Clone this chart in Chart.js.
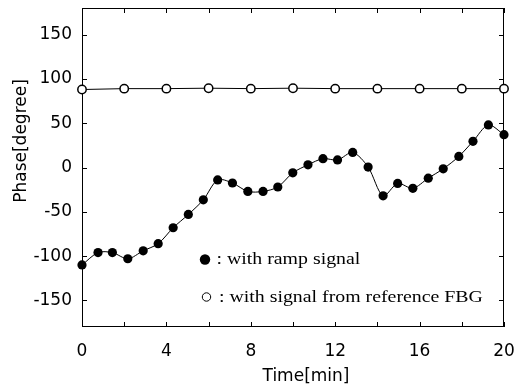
<!DOCTYPE html>
<html><head><meta charset="utf-8">
<script src="https://cdn.jsdelivr.net/npm/chart.js@4"></script>
<style>html,body{margin:0;padding:0;background:#fff}#wrap{width:529px;height:388px}</style>
</head><body>
<div id="wrap"><canvas id="c"></canvas></div>
<script>
// ---- data ----
const rampTime  = [0, 0.76, 1.44, 2.17, 2.90, 3.61, 4.32, 5.04, 5.75, 6.43, 7.13, 7.86, 8.58, 9.28, 9.99,
                   10.71, 11.42, 12.11, 12.83, 13.56, 14.27, 14.96, 15.68, 16.41, 17.12, 17.86, 18.53, 19.26, 20];
const rampPhase = [-110, -96, -96, -103, -94, -86, -68, -53, -36.5, -14, -17.5, -27, -27, -22, -6,
                   3, 10, 8.5, 17, 0.5, -32, -18, -23.5, -12, -1.5, 12.5, 29.5, 48, 37];
const refTime   = [0, 2, 4, 6, 8, 10, 12, 14, 16, 18, 20];
const refPhase  = [88, 89, 89, 89.5, 89, 89.5, 89, 89, 89, 89, 89];
const xTickValues  = [0, 2, 4, 6, 8, 10, 12, 14, 16, 18, 20];
const xLabelValues = [0, 4, 8, 12, 16, 20];
const yTickValues  = [-150, -100, -50, 0, 50, 100, 150];
const xTitle = 'Time[min]';
const yTitle = 'Phase[degree]';
const legendTexts = [': with ramp signal', ': with signal from reference FBG'];

Chart.defaults.font.family = 'DejaVu Sans';
Chart.defaults.color = '#000';

const frame = {
  id: 'frame',
  beforeDatasetsDraw(chart) {
    const {ctx, chartArea: a} = chart;
    const xs = chart.scales.x, ys = chart.scales.y;
    ctx.save();
    ctx.strokeStyle = '#000';
    ctx.lineWidth = 1;
    ctx.strokeRect(a.left + 0.5, a.top + 0.5, a.right - a.left - 1, a.bottom - a.top - 1);
    ctx.beginPath();
    const tl = 5;
    xTickValues.forEach(v => {
      const px = Math.round(xs.getPixelForValue(v)) + 0.5;
      ctx.moveTo(px, a.bottom); ctx.lineTo(px, a.bottom - tl);
      ctx.moveTo(px, a.top); ctx.lineTo(px, a.top + tl);
    });
    yTickValues.forEach(v => {
      const py = Math.round(ys.getPixelForValue(v)) + 0.5;
      ctx.moveTo(a.left, py); ctx.lineTo(a.left + tl, py);
      ctx.moveTo(a.right, py); ctx.lineTo(a.right - tl, py);
    });
    ctx.stroke();
    ctx.restore();
  },
  afterDraw(chart) {
    const {ctx} = chart;
    ctx.save();
    ctx.fillStyle = '#000';
    ctx.font = '17px "DejaVu Sans"';
    ctx.textAlign = 'center';
    ctx.textBaseline = 'alphabetic';
    ctx.fillText(xTitle, 306, 381);
    ctx.translate(26, 141);
    ctx.rotate(-Math.PI / 2);
    ctx.fillText(yTitle, 0, 0);
    ctx.restore();
    ctx.save();
    ctx.fillStyle = '#000';
    ctx.strokeStyle = '#000';
    ctx.beginPath(); ctx.arc(205, 259.5, 5.2, 0, Math.PI * 2); ctx.fill();
    ctx.lineWidth = 1;
    ctx.beginPath(); ctx.arc(206.5, 297, 4.2, 0, Math.PI * 2); ctx.stroke();
    ctx.font = '16px "Liberation Serif"';
    ctx.textAlign = 'left';
    ctx.textBaseline = 'alphabetic';
    const sx = 1.24;
    [[216.5, 264, legendTexts[0]], [219, 301.5, legendTexts[1]]].forEach(([x, y, t]) => {
      ctx.save(); ctx.translate(x, y); ctx.scale(sx, 1); ctx.fillText(t, 0, 0); ctx.restore();
    });
    ctx.restore();
  }
};

new Chart(document.getElementById('c'), {
  type: 'line',
  data: {
    datasets: [
      {
        data: rampTime.map((t, i) => ({x: t, y: rampPhase[i]})),
        borderColor: '#000', borderWidth: 1, tension: 0.3,
        pointRadius: 4.6, pointBackgroundColor: '#000', pointBorderColor: '#000', pointBorderWidth: 0,
        clip: false
      },
      {
        data: refTime.map((t, i) => ({x: t, y: refPhase[i]})),
        borderColor: '#000', borderWidth: 1, tension: 0,
        pointRadius: 4.2, pointBackgroundColor: '#fff', pointBorderColor: '#000', pointBorderWidth: 1.5,
        clip: false
      }
    ]
  },
  options: {
    responsive: true, maintainAspectRatio: false, animation: false, devicePixelRatio: 1,
    layout: {padding: {top: 8, right: 25, left: 0, bottom: 0}},
    plugins: {legend: {display: false}, tooltip: {enabled: false}},
    scales: {
      x: {
        type: 'linear', min: 0, max: 20,
        afterBuildTicks: s => { s.ticks = xTickValues.map(v => ({value: v})); },
        afterFit: s => { s.height = 61; s.paddingLeft = 0; s.paddingRight = 0; },
        grid: {display: false, drawTicks: false}, border: {display: false},
        ticks: {
          autoSkip: false, maxRotation: 0, padding: 14,
          font: {size: 17, family: 'DejaVu Sans'}, color: '#000',
          callback: v => xLabelValues.includes(v) ? String(v) : ''
        }
      },
      y: {
        type: 'linear', min: -180, max: 180,
        afterBuildTicks: s => { s.ticks = yTickValues.map(v => ({value: v})); },
        afterFit: s => { s.width = 82; s.paddingTop = 0; s.paddingBottom = 0; },
        grid: {display: false, drawTicks: false}, border: {display: false},
        ticks: {padding: 10, font: {size: 17, family: 'DejaVu Sans'}, color: '#000'}
      }
    }
  },
  plugins: [frame]
});
</script>
</body></html>
